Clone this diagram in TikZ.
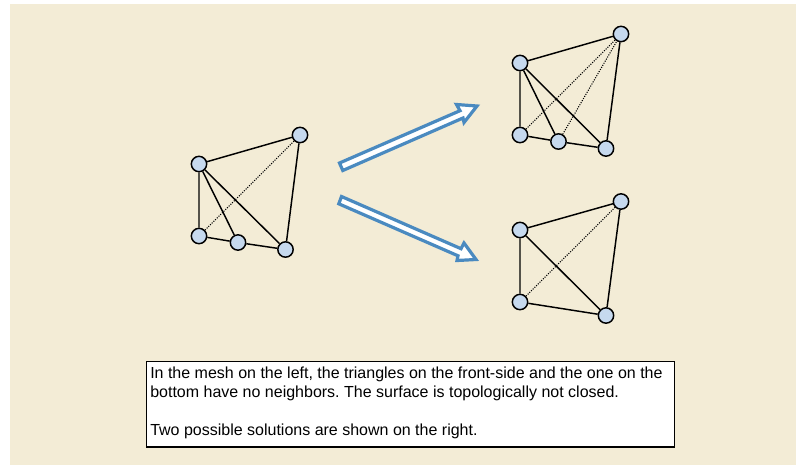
\documentclass[tikz,border=0pt]{standalone}
\usepackage{fontspec}
\setmainfont{Liberation Sans}
\usepackage{xcolor}
\definecolor{creme}{HTML}{F3ECD6}
\definecolor{sommet}{HTML}{C6D9EE}
\definecolor{fleche}{HTML}{4A8AC0}
\usetikzlibrary{positioning,arrows.meta,calc}
\tikzset{
  sommet/.style={circle,draw=black,fill=sommet,line width=1.1pt,minimum size=11.5pt,inner sep=0pt},
  arete/.style={line width=1.1pt},
  cachee/.style={line width=0.8pt,densely dotted},
  fleche/.style={draw=fleche,fill=white,line width=2.4pt,line join=miter}
}
\begin{document}
\frenchspacing
\begin{tikzpicture}[x=0.75pt,y=-0.75pt]
\useasboundingbox (0,0) rectangle (796,465);
% fond
\fill[creme] (10,4) rectangle (796,465);
% maillage de gauche
\node[sommet] (g1) at (199,164) {};
\node[sommet] (g2) at (300,135) {};
\node[sommet] (g3) at (199,236) {};
\node[sommet] (g4) at (238,242.5) {};
\node[sommet] (g5) at (285.5,249.5) {};
\draw[cachee] (g3) -- (g2);
\draw[arete] (g1) -- (g2) (g1) -- (g3) (g1) -- (g4) (g1) -- (g5) (g2) -- (g5) (g3) -- (g4) (g4) -- (g5);
% solution du haut
\node[sommet] (h1) at (520,63) {};
\node[sommet] (h2) at (621,34) {};
\node[sommet] (h3) at (520,135) {};
\node[sommet] (h4) at (558.5,141.5) {};
\node[sommet] (h5) at (606,148.5) {};
\draw[cachee] (h3) -- (h2) (h4) -- (h2);
\draw[arete] (h1) -- (h2) (h1) -- (h3) (h1) -- (h4) (h1) -- (h5) (h2) -- (h5) (h3) -- (h4) (h4) -- (h5);
% solution du bas
\node[sommet] (b1) at (520,230) {};
\node[sommet] (b2) at (621,201.5) {};
\node[sommet] (b3) at (520,302) {};
\node[sommet] (b5) at (606,315.5) {};
\draw[cachee] (b3) -- (b2);
\draw[arete] (b1) -- (b2) (b1) -- (b3) (b1) -- (b5) (b2) -- (b5) (b3) -- (b5);
% fleches
\draw[fleche] (339.5,163) -- (460,110.7) -- (456.5,104.5) -- (477,106) -- (464,122.5) -- (463,118) -- (342.8,170.5) -- cycle;
\draw[fleche] (341.5,196.5) -- (461,248.7) -- (464,243) -- (476,259.5) -- (457,260.5) -- (458,255.8) -- (338.8,203.8) -- cycle;
% legende
\node[draw=black,fill=white,line width=0.9pt,anchor=north west,minimum width=396pt,minimum height=64pt,inner sep=0pt] (legende) at (146,361) {};
\node[anchor=north west,align=left,font=\fontsize{12pt}{14.25pt}\selectfont,inner sep=0pt] (texte) at (150,366.5)
  {In the mesh on the left, the triangles on the front-side and the one on the\\bottom have no neighbors. The surface is topologically not closed.\\[14.25pt]Two possible solutions are shown on the right.};
\end{tikzpicture}
\end{document}
